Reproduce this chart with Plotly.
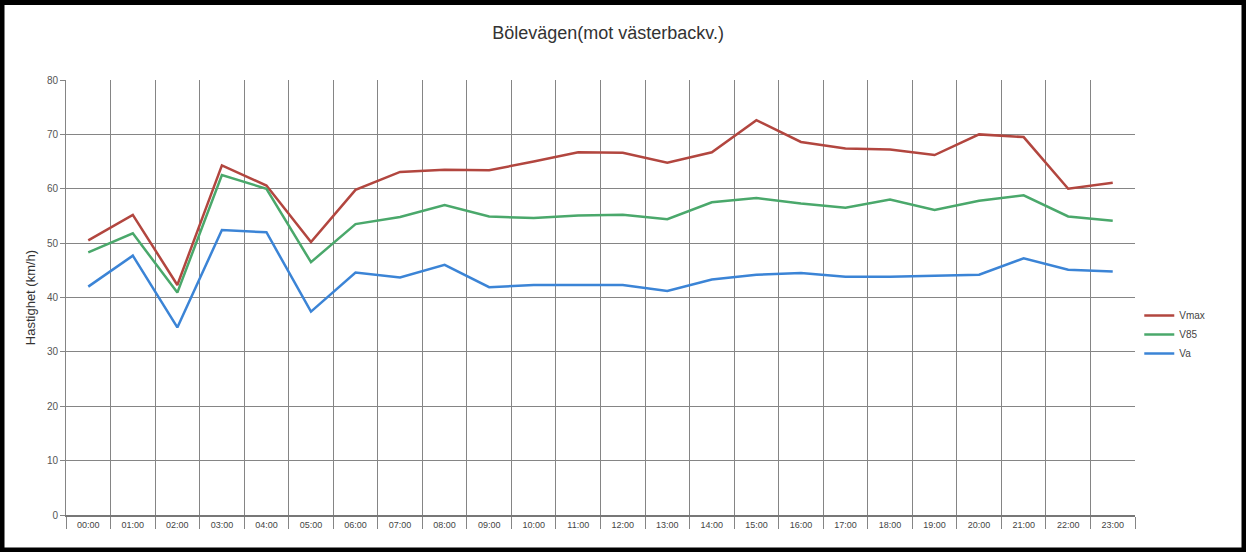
import plotly.graph_objects as go

hours = ["00:00", "01:00", "02:00", "03:00", "04:00", "05:00", "06:00", "07:00",
         "08:00", "09:00", "10:00", "11:00", "12:00", "13:00", "14:00", "15:00",
         "16:00", "17:00", "18:00", "19:00", "20:00", "21:00", "22:00", "23:00"]

vmax = [50.5, 55.2, 42.3, 64.3, 60.6, 50.2, 59.8, 63.1, 63.5, 63.4, 65.0, 66.7,
        66.6, 64.8, 66.7, 72.6, 68.6, 67.4, 67.2, 66.2, 70.0, 69.5, 60.0, 61.1]
v85 = [48.3, 51.8, 40.9, 62.5, 60.0, 46.5, 53.5, 54.8, 57.0, 54.9, 54.6, 55.1,
       55.2, 54.4, 57.5, 58.3, 57.3, 56.5, 58.0, 56.1, 57.8, 58.8, 54.9, 54.1]
va = [42.0, 47.7, 34.5, 52.4, 52.0, 37.4, 44.6, 43.7, 46.0, 41.9, 42.3, 42.3,
      42.3, 41.2, 43.3, 44.2, 44.5, 43.8, 43.8, 44.0, 44.2, 47.2, 45.1, 44.8]

series_names = ["Vmax", "V85", "Va"]
series_colors = ["#b2463f", "#4aa86b", "#3b84d6"]

W, H = 1246, 552
ML, MR, MT, MB = 66, 111, 80, 37
PW, PH = W - ML - MR, H - MT - MB

fig = go.Figure()
for name, vals, col in zip(series_names, [vmax, v85, va], series_colors):
    fig.add_trace(go.Scatter(x=hours, y=vals, name=name, mode="lines",
                             line=dict(color=col, width=2.5)))

fig.update_layout(
    width=W, height=H,
    margin=dict(l=ML, r=MR, t=MT, b=MB),
    paper_bgcolor="white", plot_bgcolor="white",
    font=dict(family="Liberation Sans, Arial, sans-serif", color="#444"),
    title=dict(text="Bölevägen(mot västerbackv.)", x=0.488, xref="container",
               xanchor="center", y=0.94, yref="container", yanchor="middle",
               font=dict(size=18, color="#333")),
    showlegend=True,
    legend=dict(x=1.004, xanchor="left", y=0.415, yanchor="middle",
                font=dict(size=10, color="#444"), itemwidth=30,
                bgcolor="rgba(0,0,0,0)", tracegroupgap=2),
    xaxis=dict(type="category", tickson="boundaries", showgrid=True,
               gridcolor="#858585", gridwidth=1, ticks="outside", ticklen=12,
               tickcolor="#858585", tickfont=dict(size=9, color="#444"),
               showline=True, linecolor="#777", linewidth=1.5, mirror=False,
               range=[-0.5, 23.5]),
    yaxis=dict(range=[0, 80], dtick=10, showgrid=True, gridcolor="#858585",
               gridwidth=1, ticks="outside", ticklen=5, tickcolor="#858585",
               tickfont=dict(size=10, color="#555"), zeroline=False,
               showline=True, linecolor="#858585", linewidth=1,
               title=dict(text="Hastighet (km/h)", font=dict(size=13, color="#333"),
                          standoff=8)),
)

# scanned black frame around the whole image
fig.add_shape(type="rect", xref="paper", yref="paper",
              x0=-(ML - 2) / PW, x1=1 + (MR - 2) / PW,
              y0=-(MB - 2) / PH, y1=1 + (MT - 2.5) / PH,
              line=dict(color="black", width=5), fillcolor="rgba(0,0,0,0)",
              layer="above")

fig.write_html("out.html", config={"displayModeBar": False},
               post_script="document.body.style.margin='0';document.body.style.overflow='hidden';")
